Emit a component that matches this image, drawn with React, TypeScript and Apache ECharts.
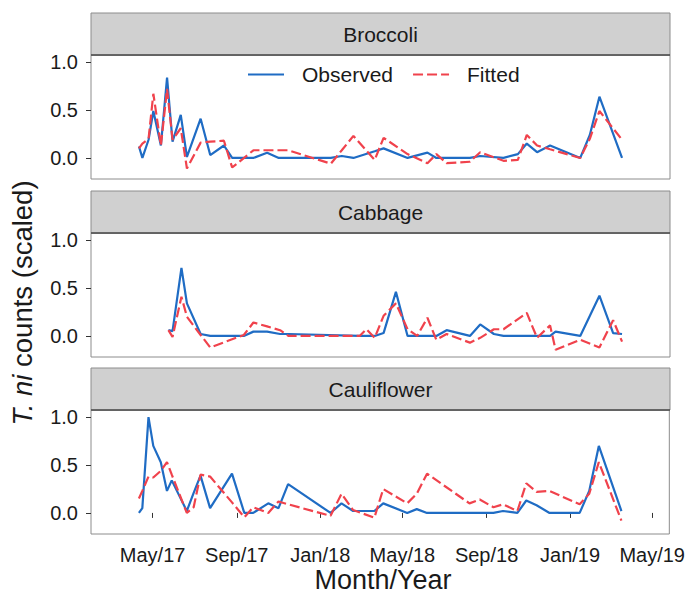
import React, { useEffect, useRef } from "react";
import * as echarts from "echarts";

// Facet panels (one per crop)
const crops = ["Broccoli", "Cabbage", "Cauliflower"];

// Broccoli samples
const broccoliDates = [
  "2017-04-11", "2017-04-16", "2017-04-25", "2017-05-02", "2017-05-13", "2017-05-22",
  "2017-05-30", "2017-06-11", "2017-06-20", "2017-07-10", "2017-07-24", "2017-08-13",
  "2017-08-25", "2017-09-25", "2017-10-15", "2017-11-01", "2017-11-15", "2018-01-16",
  "2018-02-01", "2018-02-18", "2018-03-21", "2018-04-03", "2018-05-08", "2018-06-06",
  "2018-06-19", "2018-07-04", "2018-08-07", "2018-08-22", "2018-09-25", "2018-10-16",
  "2018-10-29", "2018-11-13", "2018-12-02", "2019-01-15", "2019-01-29", "2019-02-12",
  "2019-03-17",
];
const broccoliObserved = [
  0.12, 0.0, 0.19, 0.49, 0.13, 0.84, 0.17, 0.45, 0.01, 0.41, 0.03, 0.13, 0.0, 0.0, 0.055,
  0.0, 0.0, 0.0, 0.02, 0.0, 0.07, 0.1, 0.0, 0.055, 0.0, 0.0, 0.0, 0.02, 0.0, 0.04, 0.15,
  0.06, 0.13, 0.0, 0.24, 0.64, 0.0,
];
const broccoliFitted = [
  0.1, 0.15, 0.2, 0.67, 0.13, 0.72, 0.19, 0.31, -0.11, 0.16, 0.17, 0.18, -0.1, 0.08, 0.08,
  0.08, 0.08, -0.06, 0.08, 0.23, -0.02, 0.21, 0.04, -0.055, 0.04, -0.055, -0.04, 0.06,
  -0.03, -0.02, 0.24, 0.13, 0.09, 0.0, 0.2, 0.49, 0.19,
];

// Cabbage samples
const cabbageDates = [
  "2017-05-24", "2017-05-30", "2017-06-12", "2017-06-20", "2017-07-10", "2017-07-24",
  "2017-09-11", "2017-09-25", "2017-10-15", "2017-11-03", "2017-11-15", "2018-02-27",
  "2018-03-09", "2018-03-21", "2018-04-03", "2018-04-21", "2018-05-08", "2018-05-22",
  "2018-06-06", "2018-06-19", "2018-07-04", "2018-08-07", "2018-08-22", "2018-09-11",
  "2018-09-25", "2018-10-29", "2018-11-13", "2018-12-02", "2018-12-10", "2019-01-15",
  "2019-02-12", "2019-03-04", "2019-03-17",
];
const cabbageObserved = [
  0.06, 0.05, 0.71, 0.34, 0.02, 0.0, 0.0, 0.045, 0.045, 0.02, 0.02, 0.0, 0.0, 0.0, 0.03,
  0.46, 0.0, 0.0, 0.0, 0.0, 0.06, 0.0, 0.12, 0.02, 0.0, 0.0, 0.0, 0.0, 0.045, 0.0, 0.42,
  0.03, 0.02,
];
const cabbageFitted = [
  0.06, -0.01, 0.41, 0.2, 0.01, -0.12, 0.01, 0.14, 0.1, 0.06, 0.0, 0.0, 0.07, -0.02, 0.21,
  0.34, 0.07, 0.0, 0.19, -0.04, 0.02, -0.07, -0.02, 0.07, 0.07, 0.24, -0.02, 0.11, -0.145,
  -0.04, -0.12, 0.165, -0.06,
];

// Cauliflower samples
const cauliflowerDates = [
  "2017-04-11", "2017-04-16", "2017-04-25", "2017-05-02", "2017-05-13", "2017-05-22",
  "2017-05-29", "2017-06-20", "2017-06-30", "2017-07-10", "2017-07-24", "2017-08-25",
  "2017-09-12", "2017-09-25", "2017-10-17", "2017-11-01", "2017-11-15", "2018-01-16",
  "2018-02-01", "2018-02-18", "2018-03-21", "2018-04-03", "2018-05-08", "2018-05-22",
  "2018-06-06", "2018-08-07", "2018-08-22", "2018-09-11", "2018-09-25", "2018-10-16",
  "2018-10-29", "2018-11-13", "2018-12-02", "2019-01-15", "2019-01-29", "2019-02-12",
  "2019-03-17",
];
const cauliflowerObserved = [
  0.0, 0.05, 1.0, 0.7, 0.53, 0.23, 0.34, 0.02, 0.21, 0.39, 0.05, 0.41, 0.0, 0.0, 0.1,
  0.05, 0.3, 0.0, 0.1, 0.02, 0.02, 0.1, 0.0, 0.04, 0.0, 0.0, 0.0, 0.0, 0.02, 0.0, 0.13,
  0.08, 0.0, 0.0, 0.23, 0.7, 0.02,
];
const cauliflowerFitted = [
  0.15, 0.23, 0.38, 0.37, 0.44, 0.53, 0.4, 0.0, 0.06, 0.4, 0.38, 0.11, -0.045, 0.06, 0.0,
  0.12, 0.09, -0.03, 0.2, 0.03, -0.05, 0.25, 0.1, 0.2, 0.41, 0.1, 0.14, 0.06, 0.09, 0.02,
  0.31, 0.22, 0.23, 0.09, 0.2, 0.53, -0.08,
];

// Axis ticks
const xTickDates = [
  "2017-05-01", "2017-09-01", "2018-01-01", "2018-05-01", "2018-09-01", "2019-01-01",
  "2019-05-01",
];
const xTickLabels = ["May/17", "Sep/17", "Jan/18", "May/18", "Sep/18", "Jan/19", "May/19"];
const yTicks = [0, 0.5, 1];

const toTime = (d: string) => Date.parse(d + "T00:00:00Z");

const FONT = "'Liberation Sans', Arial, sans-serif";
const BLUE = "#1f6cc4";
const RED = "#f0424c";

// Panel geometry (px)
const PLOT_LEFT = 91;
const PLOT_RIGHT = 670;
const panelTops = [55, 233, 410];
const panelHeight = 124;
const stripHeight = 42;

export default function App() {
  const ref = useRef<HTMLDivElement>(null);

  useEffect(() => {
    if (!ref.current) return;
    const chart = echarts.init(ref.current, null, { renderer: "svg" });

    const panels = [
      { dates: broccoliDates, obs: broccoliObserved, fit: broccoliFitted },
      { dates: cabbageDates, obs: cabbageObserved, fit: cabbageFitted },
      { dates: cauliflowerDates, obs: cauliflowerObserved, fit: cauliflowerFitted },
    ];

    const tickTimes = xTickDates.map(toTime);
    const xMin = toTime("2017-01-31");
    const xMax = toTime("2019-05-26");

    const grids = panelTops.map((top) => ({
      left: PLOT_LEFT,
      width: PLOT_RIGHT - PLOT_LEFT,
      top,
      height: panelHeight,
      show: true,
      backgroundColor: "#ffffff",
      borderColor: "#8c8c8c",
      borderWidth: 1,
    }));

    const xAxes = panelTops.map((_, i) => {
      const bottom = i === panelTops.length - 1;
      return {
        type: "value" as const,
        gridIndex: i,
        min: xMin,
        max: xMax,
        axisLine: { show: false },
        splitLine: { show: false },
        axisTick: {
          show: bottom,
          length: 5,
          customValues: tickTimes,
          lineStyle: { color: "#333", width: 1 },
        },
        axisLabel: {
          show: bottom,
          customValues: tickTimes,
          formatter: (v: number) => {
            const k = tickTimes.indexOf(v);
            return k >= 0 ? xTickLabels[k] : "";
          },
          fontSize: 20,
          fontFamily: FONT,
          color: "#1a1a1a",
          margin: 11,
        },
      };
    });

    const yAxes = panelTops.map((_, i) => ({
      type: "value" as const,
      gridIndex: i,
      min: -0.22,
      max: 1.075,
      axisLine: { show: false },
      splitLine: { show: false },
      axisTick: {
        show: true,
        length: 5,
        customValues: yTicks,
        lineStyle: { color: "#333", width: 1 },
      },
      axisLabel: {
        customValues: yTicks,
        formatter: (v: number) => v.toFixed(1),
        fontSize: 20,
        fontFamily: FONT,
        color: "#1a1a1a",
        margin: 13,
      },
    }));

    const series: any[] = [];
    panels.forEach((p, i) => {
      series.push({
        name: "Observed",
        type: "line",
        xAxisIndex: i,
        yAxisIndex: i,
        symbol: "none",
        data: p.dates.map((d, k) => [toTime(d), p.obs[k]]),
        lineStyle: { color: BLUE, width: 2.2 },
        itemStyle: { color: BLUE },
        z: 2,
      });
      series.push({
        name: "Fitted",
        type: "line",
        xAxisIndex: i,
        yAxisIndex: i,
        symbol: "none",
        data: p.dates.map((d, k) => [toTime(d), p.fit[k]]),
        lineStyle: { color: RED, width: 2.2, type: [10, 4] },
        itemStyle: { color: RED },
        z: 3,
      });
    });

    const graphics: any[] = [];
    panelTops.forEach((top, i) => {
      const y0 = top - stripHeight;
      graphics.push({
        type: "rect",
        shape: { x: PLOT_LEFT, y: y0, width: PLOT_RIGHT - PLOT_LEFT, height: stripHeight },
        style: { fill: "#d0d0d0", stroke: "#8c8c8c", lineWidth: 1 },
        z: 1,
      });
      graphics.push({
        type: "line",
        shape: { x1: PLOT_LEFT, y1: top, x2: PLOT_RIGHT, y2: top },
        style: { stroke: "#4d4d4d", lineWidth: 1.5 },
        z: 10,
      });
      graphics.push({
        type: "text",
        x: (PLOT_LEFT + PLOT_RIGHT) / 2,
        y: y0 + stripHeight / 2,
        style: {
          text: crops[i],
          fontSize: 21,
          fontFamily: FONT,
          fill: "#1a1a1a",
          align: "center",
          verticalAlign: "middle",
        },
        z: 2,
      });
    });
    graphics.push({
      type: "text",
      x: 383,
      y: 580,
      style: {
        text: "Month/Year",
        fontSize: 27,
        fontFamily: FONT,
        fill: "#1a1a1a",
        align: "center",
        verticalAlign: "middle",
      },
    });
    graphics.push({
      type: "text",
      x: 22,
      y: 303,
      rotation: Math.PI / 2,
      style: {
        text: "{i|T. ni} counts (scaled)",
        fontSize: 27.5,
        fontFamily: FONT,
        fill: "#1a1a1a",
        align: "center",
        verticalAlign: "middle",
        rich: {
          i: { fontSize: 27.5, fontFamily: FONT, fontStyle: "italic", fill: "#1a1a1a" },
        },
      },
    });

    chart.setOption({
      animation: false,
      backgroundColor: "#ffffff",
      grid: grids,
      xAxis: xAxes,
      yAxis: yAxes,
      legend: {
        data: ["Observed", "Fitted"],
        left: 247,
        top: 64,
        padding: 0,
        itemWidth: 36,
        itemHeight: 14,
        itemGap: 19,
        itemStyle: { opacity: 0 },
        textStyle: {
          fontSize: 21,
          fontFamily: FONT,
          color: "#1a1a1a",
          padding: [0, 0, 0, 13],
        },
      },
      series,
      graphic: graphics,
    });

    return () => chart.dispose();
  }, []);

  return (
    <div
      ref={ref}
      style={{ position: "absolute", left: 0, top: 0, width: 688, height: 598 }}
    />
  );
}
